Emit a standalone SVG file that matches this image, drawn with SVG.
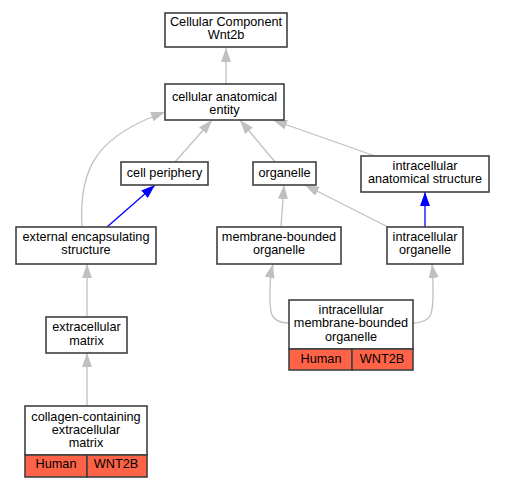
<svg xmlns="http://www.w3.org/2000/svg" width="505" height="488" viewBox="0 0 505 488">
<style>
.n rect{fill:#fff;stroke:#404040;stroke-width:1.6}
.n rect.r{fill:#ff6347}
text{font-family:"Liberation Sans",Arial,sans-serif;font-size:12.7px;text-anchor:middle;fill:#000}
.e path{fill:none;stroke:#c0c0c0;stroke-width:1.3}
.e path.b{stroke:#0000ff}
</style>
<defs>
<marker id="ag" markerUnits="userSpaceOnUse" markerWidth="14" markerHeight="10" refX="14" refY="5" orient="auto"><path d="M0,0 L14,5 L0,10 z" fill="#c0c0c0"/></marker>
<marker id="ab" markerUnits="userSpaceOnUse" markerWidth="14" markerHeight="10" refX="14" refY="5" orient="auto"><path d="M0,0 L14,5 L0,10 z" fill="#0000ff"/></marker>
</defs>
<rect width="505" height="488" fill="#fff"/>
<g class="e" id="edges">
<path d="M226,84 L226,48" marker-end="url(#ag)"/>
<path d="M175,162 L212,120" marker-end="url(#ag)"/>
<path d="M275,162 L240,120" marker-end="url(#ag)"/>
<path d="M375,156 L273,120" marker-end="url(#ag)"/>
<path d="M82,227 C78,165 100,135 165,112" marker-end="url(#ag)"/>
<path class="b" d="M107,227 L155,185" marker-end="url(#ab)"/>
<path d="M281,227 L284,185" marker-end="url(#ag)"/>
<path d="M388,227 L305,185" marker-end="url(#ag)"/>
<path class="b" d="M425,227 L425,192" marker-end="url(#ab)"/>
<path d="M87,317 L87,264" marker-end="url(#ag)"/>
<path d="M87,406 L87,353" marker-end="url(#ag)"/>
<path d="M289,323 C268,323 270,310 270,290 C270,280 271,272 273,264" marker-end="url(#ag)"/>
<path d="M413,323 C434,323 433,310 433,290 C433,280 433,272 432,264" marker-end="url(#ag)"/>
</g>
<g class="n" id="n_cc"><rect x="165" y="13" width="122" height="34"/><text x="226" y="26">Cellular Component</text><text x="226" y="39">Wnt2b</text></g>
<g class="n" id="n_cae"><rect x="165" y="84" width="119" height="36"/><text x="224.5" y="101">cellular anatomical</text><text x="224.5" y="114">entity</text></g>
<g class="n" id="n_cp"><rect x="121" y="162" width="87" height="23"/><text x="164.5" y="177">cell periphery</text></g>
<g class="n" id="n_org"><rect x="253" y="162" width="63" height="23"/><text x="284.5" y="177">organelle</text></g>
<g class="n" id="n_ias"><rect x="361" y="156" width="128" height="36"/><text x="425" y="170">intracellular</text><text x="425" y="183">anatomical structure</text></g>
<g class="n" id="n_ees"><rect x="16" y="227" width="140" height="37"/><text x="86" y="241">external encapsulating</text><text x="86" y="254">structure</text></g>
<g class="n" id="n_mbo"><rect x="217" y="227" width="124" height="37"/><text x="279" y="241">membrane-bounded</text><text x="279" y="254">organelle</text></g>
<g class="n" id="n_io"><rect x="387" y="227" width="76" height="37"/><text x="425" y="241">intracellular</text><text x="425" y="254">organelle</text></g>
<g class="n" id="n_em"><rect x="46" y="317" width="81" height="36"/><text x="86.5" y="331">extracellular</text><text x="86.5" y="345">matrix</text></g>
<g class="n" id="n_ccem"><rect x="25" y="406" width="122" height="49"/><rect class="r" x="25" y="455" width="62" height="22"/><rect class="r" x="87" y="455" width="60" height="22"/><text x="86" y="421">collagen-containing</text><text x="86" y="434">extracellular</text><text x="86" y="447">matrix</text><text x="56" y="468">Human</text><text x="116" y="468">WNT2B</text></g>
<g class="n" id="n_imbo"><rect x="289" y="300" width="124" height="49"/><rect class="r" x="289" y="349" width="63" height="21"/><rect class="r" x="352" y="349" width="61" height="21"/><text x="351" y="314">intracellular</text><text x="351" y="327">membrane-bounded</text><text x="351" y="341">organelle</text><text x="321" y="363">Human</text><text x="382" y="363">WNT2B</text></g>
</svg>
